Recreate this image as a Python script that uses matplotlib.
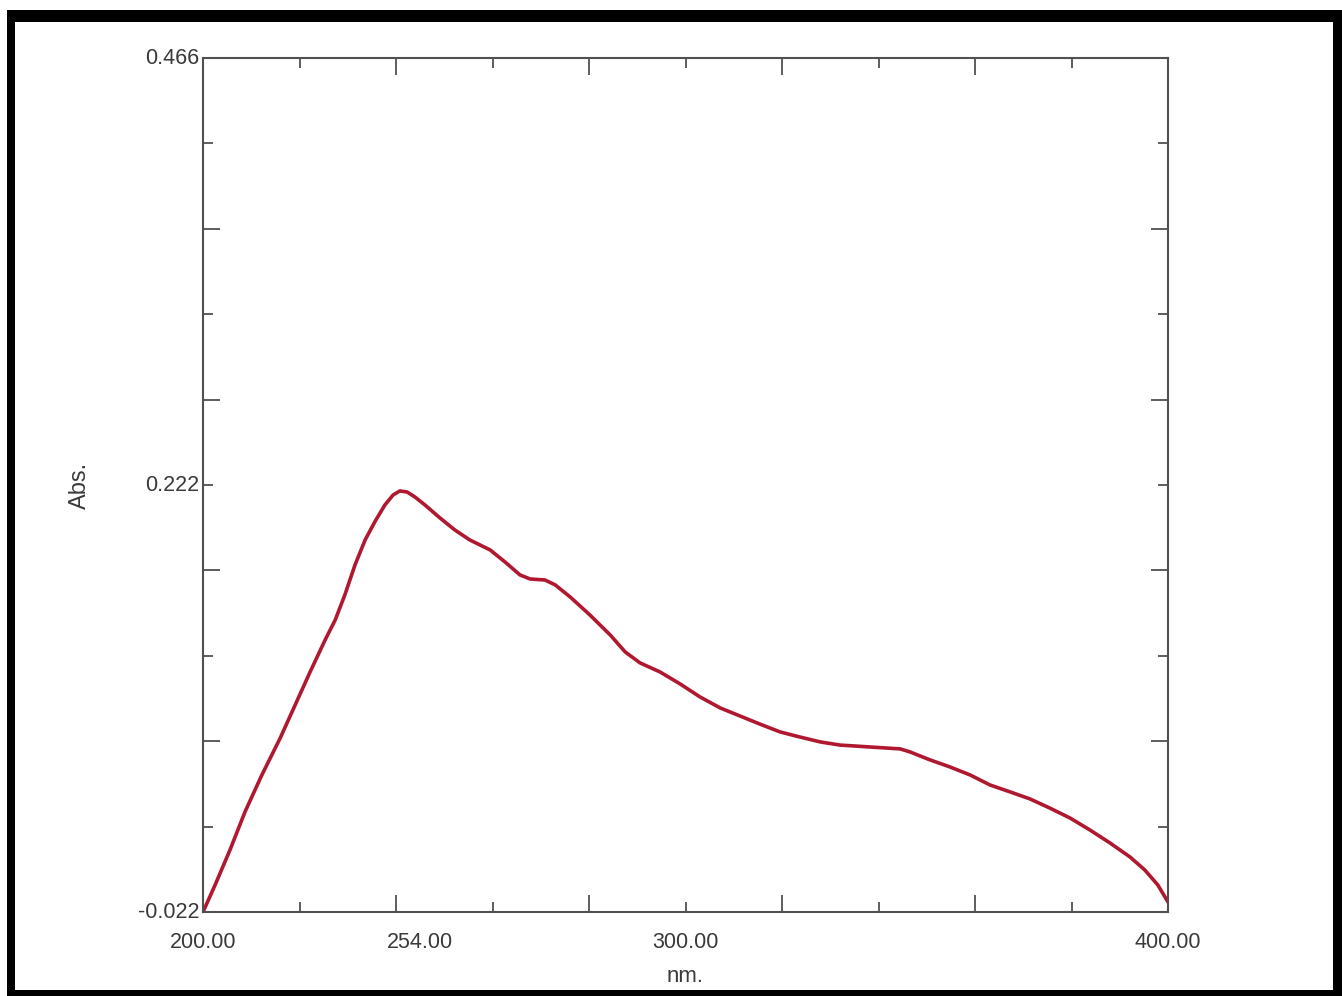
import matplotlib.pyplot as plt
from matplotlib.patches import Rectangle
from matplotlib.transforms import blended_transform_factory

# Absorbance spectrum (wavelength in nm, absorbance)
wavelength = [200.0, 202.5, 205.6, 208.7, 212.2, 216.0, 219.1, 222.2, 225.3, 227.4,
              229.4, 231.5, 233.6, 235.6, 237.7, 239.4, 240.8, 242.3, 243.9, 246.0,
              249.1, 252.2, 255.3, 259.5, 262.6, 265.7, 267.8, 270.9, 273.0, 276.1,
              280.2, 284.4, 287.5, 290.6, 294.7, 298.9, 303.0, 307.2, 311.3, 315.4,
              319.6, 323.7, 327.9, 332.0, 338.2, 344.5, 346.5, 350.7, 354.8, 359.0,
              363.1, 367.3, 371.4, 375.5, 379.7, 383.8, 388.0, 392.1, 395.2, 397.9,
              400.0]
absorbance = [-0.0220, -0.0066, 0.0135, 0.0352, 0.0563, 0.0774, 0.0963, 0.1152, 0.1334, 0.1449,
              0.1592, 0.1763, 0.1906, 0.2009, 0.2106, 0.2163, 0.2186, 0.2180, 0.2152, 0.2106,
              0.2032, 0.1963, 0.1906, 0.1849, 0.1780, 0.1706, 0.1683, 0.1677, 0.1649, 0.1580,
              0.1477, 0.1363, 0.1266, 0.1203, 0.1152, 0.1083, 0.1009, 0.0946, 0.0900, 0.0854,
              0.0809, 0.0780, 0.0752, 0.0734, 0.0723, 0.0712, 0.0695, 0.0649, 0.0609, 0.0563,
              0.0506, 0.0466, 0.0426, 0.0374, 0.0317, 0.0249, 0.0174, 0.0095, 0.0020, -0.0066,
              -0.0163]

x_min, x_max = 200.0, 400.0
y_min, y_max = -0.022, 0.466

# labels printed along the axes (position, text)
x_labels = [(200.0, "200.00"), (245.0, "254.00"), (300.0, "300.00"), (400.0, "400.00")]
y_labels = [(0.466, "0.466"), (0.222, "0.222"), (-0.022, "-0.022")]

font = ["Liberation Sans", "DejaVu Sans"]
text_color = "#3a3a3a"
axis_color = "#505050"

fig = plt.figure(figsize=(13.42, 9.96), dpi=100)
fig.patch.set_facecolor("white")
ax = fig.add_axes([203 / 1342, 1 - 912 / 996, 965 / 1342, 854 / 996])

ax.plot(wavelength, absorbance, color="#b01830", linewidth=2.6, solid_joinstyle="round")

ax.set_xlim(x_min, x_max)
ax.set_ylim(y_min, y_max)

# long ticks on majors, short ticks on minors, all pointing inward on every side
x_step = (x_max - x_min) / 10
y_step = (y_max - y_min) / 10
ax.set_xticks([x_min + x_step * i for i in range(2, 10, 2)])
ax.set_xticks([x_min + x_step * i for i in range(1, 10, 2)], minor=True)
ax.set_yticks([y_min + y_step * i for i in range(2, 10, 2)])
ax.set_yticks([y_min + y_step * i for i in range(1, 10, 2)], minor=True)
ax.tick_params(which="both", direction="in", top=True, right=True,
               labelbottom=False, labelleft=False, color=axis_color, width=1.3)
ax.tick_params(which="major", length=12)
ax.tick_params(which="minor", length=7)

for spine in ax.spines.values():
    spine.set_color(axis_color)
    spine.set_linewidth(1.5)

xt = blended_transform_factory(ax.transData, ax.transAxes)
for pos, lab in x_labels:
    ax.text(pos, -0.024, lab, transform=xt, ha="center", va="top",
            fontsize=15.5, family=font, color=text_color)

yt = blended_transform_factory(ax.transAxes, ax.transData)
for pos, lab in y_labels:
    ax.text(-0.004, pos, lab, transform=yt, ha="right", va="center",
            fontsize=15.5, family=font, color=text_color)

ax.text(0.5, -0.063, "nm.", transform=ax.transAxes, ha="center", va="top",
        fontsize=16, family=font, color=text_color)
ax.text(-0.128, 0.5, "Abs.", transform=ax.transAxes, ha="center", va="center",
        rotation=90, fontsize=17, family=font, color=text_color)

# thick black frame around the whole figure
W, H = 1342, 996
frame = [(7, 0, 8, 986), (7, 974, 1335, 12), (7, 0, 1335, 6), (1333, 0, 9, 986)]
for x0, y0, w, h in frame:
    fig.add_artist(Rectangle((x0 / W, y0 / H), w / W, h / H, transform=fig.transFigure,
                             facecolor="black", edgecolor="none"))

fig.savefig("out.png", dpi=100)
